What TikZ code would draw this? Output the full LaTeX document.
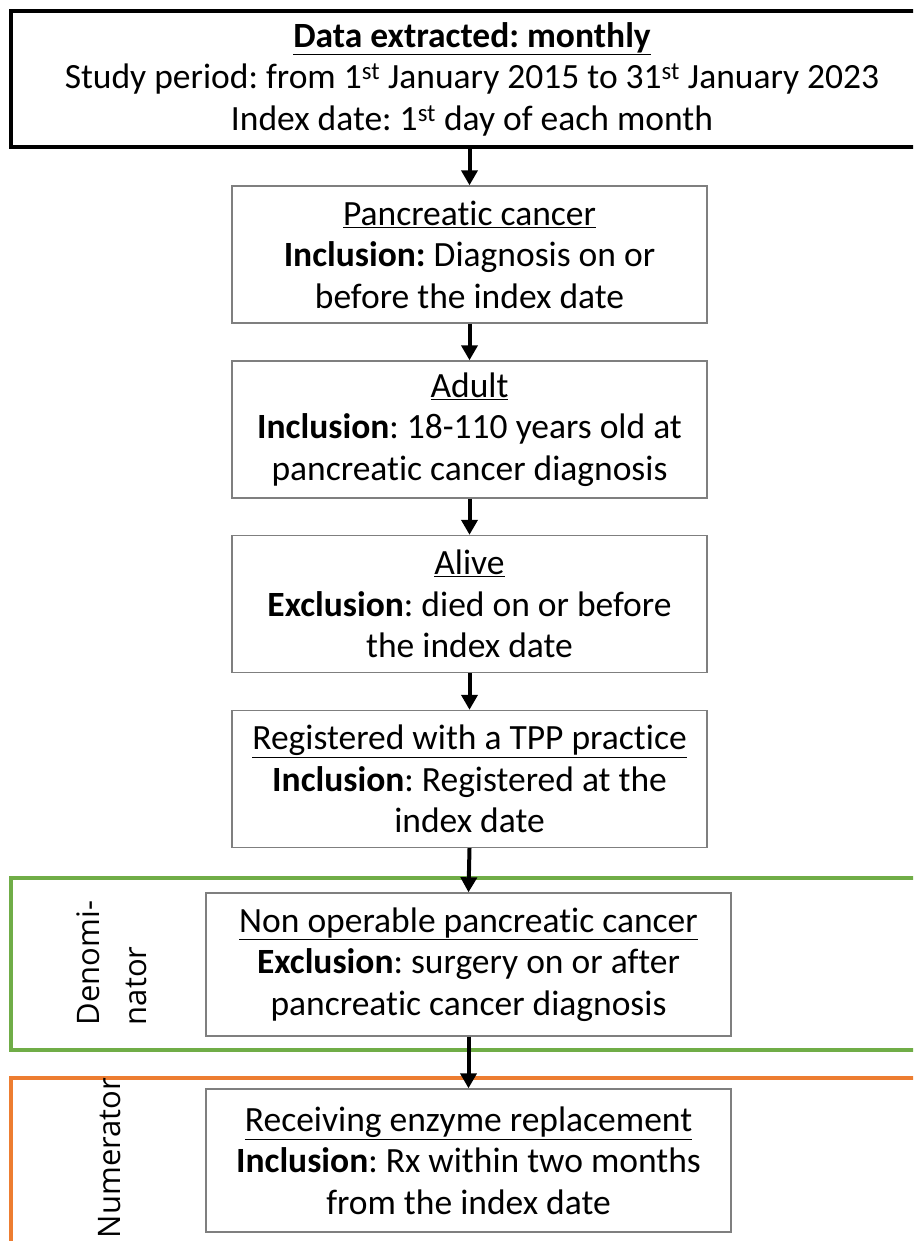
\documentclass[tikz,border=0pt]{standalone}
\usepackage{fontspec}
\setmainfont{Carlito}[Ligatures=NoCommon]
\newfontfamily\labelfont{Open Sans}
\usetikzlibrary{arrows.meta}
\definecolor{boxgray}{HTML}{7F7F7F}
\definecolor{dengreen}{HTML}{70AD47}
\definecolor{numorange}{HTML}{ED7D31}
\tikzset{
  stagebox/.style={draw=boxgray, line width=1.4pt, fill=white, align=center,
    inner sep=0pt, font=\fontsize{35.5}{41.5}\selectfont},
  narrowbox/.style={stagebox, minimum width=475pt, minimum height=137pt},
  widebox/.style={stagebox, minimum width=525pt, minimum height=143pt},
  flowarrow/.style={line width=4pt, -{Triangle[length=15pt,width=16pt]}},
  groupframe/.style={line width=4pt},
  sidelabel/.style={rotate=90, align=left, font=\labelfont\fontsize{31}{47}\selectfont}
}
\frenchspacing
\begin{document}
\begin{tikzpicture}[x=1pt,y=-1pt]
\useasboundingbox (0,0) rectangle (913,1241);
\clip (0,0) rectangle (913,1241);
% group frames
\draw[groupframe, draw=dengreen] (11,878) rectangle (935,1050);
\draw[groupframe, draw=numorange] (11,1078) rectangle (935,1270);
\node[sidelabel] (denlab) at (112,963) {Denomi-\\nator};
\node[sidelabel] (numlab) at (110,1158) {Numerator};
% top box
\node[draw=black, line width=3.5pt, fill=white, align=center, inner sep=0pt,
  minimum width=922pt, minimum height=136pt,
  font=\fontsize{35.5}{41.5}\selectfont] (top) at (472,79)
  {\underline{\textbf{Data extracted: monthly}}\\
   Study period: from 1\textsuperscript{st} January 2015 to 31\textsuperscript{st} January 2023\\
   Index date: 1\textsuperscript{st} day of each month};
% stage boxes
\node[narrowbox] (b1) at (469.5,254.5)
  {\underline{Pancreatic cancer}\\
   \textbf{Inclusion:} Diagnosis on or\\
   before the index date};
\node[narrowbox] (b2) at (469.5,429.5)
  {\underline{Adult}\\
   \textbf{Inclusion}: 18-110 years old at\\
   pancreatic cancer diagnosis};
\node[narrowbox] (b3) at (469.5,604)
  {\underline{Alive}\\
   \textbf{Exclusion}: died on or before\\
   the index date};
\node[narrowbox] (b4) at (469.5,779)
  {\underline{Registered with a TPP practice}\\
   \textbf{Inclusion}: Registered at the\\
   index date};
\node[widebox] (b5) at (468.5,964.5)
  {\underline{Non operable pancreatic cancer}\\
   \textbf{Exclusion}: surgery on or after\\
   pancreatic cancer diagnosis};
\node[widebox] (b6) at (468.5,1160.5)
  {\underline{Receiving enzyme replacement}\\
   \textbf{Inclusion}: Rx within two months\\
   from the index date};
% arrows
\draw[flowarrow] (top.south -| b1.north) -- (b1.north);
\draw[flowarrow] (b1.south) -- (b2.north);
\draw[flowarrow] (b2.south) -- (b3.north);
\draw[flowarrow] (b3.south) -- (b4.north);
\draw[flowarrow] (b4.south) -- (b5.north);
\draw[flowarrow] (b5.south) -- (b6.north);
\end{tikzpicture}
\end{document}
